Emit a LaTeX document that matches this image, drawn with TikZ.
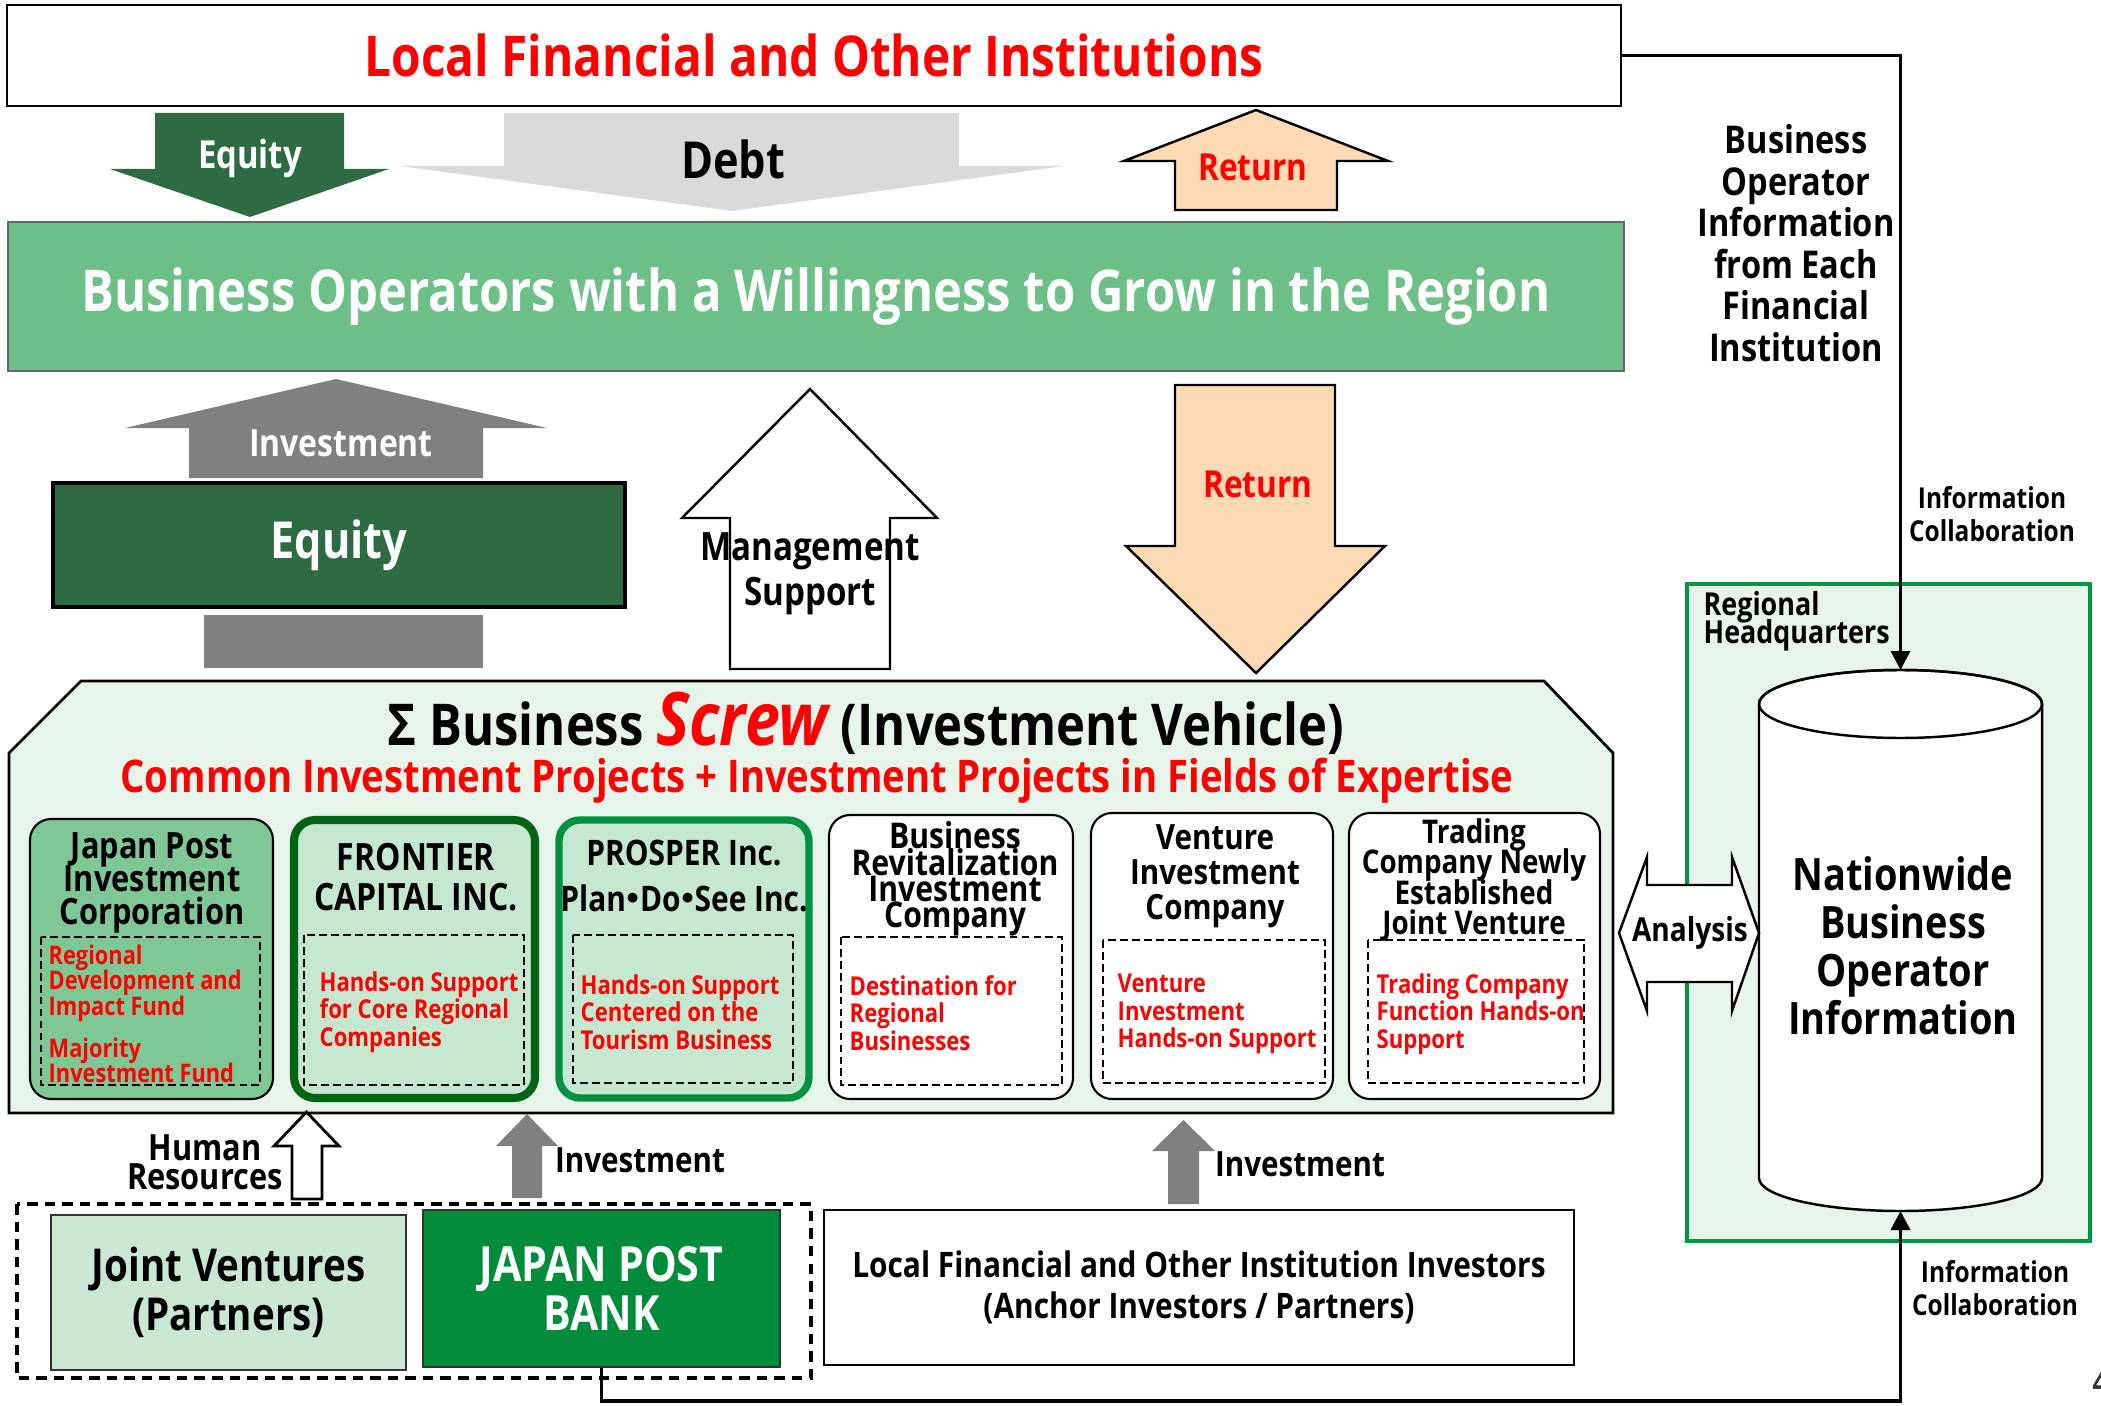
\documentclass[tikz,border=0pt]{standalone}
\usepackage{fontspec}
\setmainfont{Open Sans}[FakeStretch=0.85]
\newfontfamily\cjk{Noto Sans CJK JP}
\usetikzlibrary{arrows.meta,positioning,calc}
\definecolor{hdred}{RGB}{255,0,0}
\definecolor{grow}{RGB}{108,192,135}
\definecolor{deepgrn}{RGB}{46,107,66}
\definecolor{midgrn}{RGB}{128,199,150}
\definecolor{palegrn}{RGB}{197,231,207}
\definecolor{mistgrn}{RGB}{230,244,234}
\definecolor{jvgrn}{RGB}{201,231,211}
\definecolor{bankgrn}{RGB}{0,140,58}
\definecolor{frgrn}{RGB}{0,100,20}
\definecolor{prgrn}{RGB}{0,145,64}
\definecolor{hqgrn}{RGB}{0,150,63}
\definecolor{peach}{RGB}{253,218,180}
\definecolor{debtgray}{RGB}{217,217,217}
\definecolor{invgray}{RGB}{128,128,128}
% size and fixed line pitch (no extra lineskip)
\newcommand{\fsz}[2]{\fontsize{#1}{#2}\selectfont\lineskiplimit=-20pt\lineskip=0pt}
\tikzset{
  unit/.style={draw,rounded corners=6pt,line width=0.6pt},
  note/.style={draw,line width=0.6pt,dash pattern=on 2.2pt off 1.2pt},
  ttl/.style={align=center,inner sep=0pt},
  rtxt/.style={anchor=west,align=left,text=hdred,font=\fsz{7.4}{7.8}\bfseries,inner sep=0pt},
  fat/.style={line width=0.7pt,line join=miter},
  link/.style={line width=1pt,-{Triangle[length=1.9mm,width=1.9mm]}},
  lbl/.style={align=center,inner sep=0pt}
}

\begin{document}
\begin{tikzpicture}
\useasboundingbox (0,0) rectangle (21.01,-14.06);
% institutions on top
\node[draw,line width=0.8pt,minimum width=16.14cm,minimum height=1.01cm,text=hdred,font=\fsz{16}{18}\bfseries] (lfoi) at (8.14,-0.555) {Local Financial and Other Institutions};
% equity and debt down, return up
\fill[deepgrn] (1.55,-1.13) -- (3.44,-1.13) -- (3.44,-1.69) -- (3.89,-1.69) -- (2.50,-2.17) -- (1.10,-1.69) -- (1.55,-1.69) -- cycle;
\node[lbl,text=white,font=\fsz{11}{12}\bfseries] (eqdn) at (2.50,-1.58) {Equity};
\fill[debtgray] (5.04,-1.13) -- (9.59,-1.13) -- (9.59,-1.66) -- (10.64,-1.66) -- (7.32,-2.11) -- (4.00,-1.66) -- (5.04,-1.66) -- cycle;
\node[lbl,font=\fsz{14.5}{16}\bfseries] (debt) at (7.33,-1.59) {Debt};
\draw[fat,fill=peach] (11.75,-2.10) -- (11.75,-1.61) -- (11.24,-1.61) -- (12.56,-1.10) -- (13.88,-1.61) -- (13.37,-1.61) -- (13.37,-2.10) -- cycle;
\node[lbl,text=hdred,font=\fsz{10.6}{12}\bfseries] (retup) at (12.53,-1.67) {Return};
% operators band
\node[draw=black!60,fill=grow,minimum width=16.16cm,minimum height=1.49cm,text=white,font=\fsz{16.4}{18}\bfseries] (bow) at (8.16,-2.965) {Business Operators with a Willingness to Grow in the Region};
% equity block with investment arrow
\fill[invgray] (1.89,-4.78) -- (1.89,-4.28) -- (1.25,-4.28) -- (3.36,-3.79) -- (5.47,-4.28) -- (4.83,-4.28) -- (4.83,-4.78) -- cycle;
\node[lbl,text=white,font=\fsz{10.7}{12}\bfseries] (invup) at (3.41,-4.43) {Investment};
\node[draw,line width=1.2pt,fill=deepgrn,minimum width=5.72cm,minimum height=1.24cm,text=white,font=\fsz{14.5}{16}\bfseries] (eqbox) at (3.39,-5.45) {Equity};
\fill[invgray] (2.04,-6.15) rectangle (4.83,-6.68);
% management support, return down
\draw[fat,fill=white] (7.30,-6.69) -- (7.30,-5.18) -- (6.82,-5.18) -- (8.10,-3.89) -- (9.37,-5.18) -- (8.90,-5.18) -- (8.90,-6.69) -- cycle;
\node[lbl,font=\fsz{11.1}{12.8}\bfseries] (mgmt) at (8.10,-5.74) {Management\\Support};
\draw[fat,fill=peach] (11.75,-3.85) -- (13.35,-3.85) -- (13.35,-5.46) -- (13.85,-5.46) -- (12.56,-6.73) -- (11.26,-5.46) -- (11.75,-5.46) -- cycle;
\node[lbl,text=hdred,font=\fsz{10.6}{12}\bfseries] (retdn) at (12.58,-4.84) {Return};
% investment vehicle
\draw[line width=0.8pt,fill=mistgrn] (0.81,-6.81) -- (15.44,-6.81) -- (16.13,-7.53) -- (16.13,-11.13) -- (0.09,-11.13) -- (0.09,-7.53) -- cycle;
\node[lbl,font=\fsz{16.4}{18}\bfseries] (vtitle) at (8.66,-7.23) {Σ Business {\color{hdred}\fsz{21}{22}\itshape Screw} (Investment Vehicle)};
\node[lbl,text=hdred,font=\fsz{12.8}{15}\bfseries] (vsub) at (8.17,-7.81) {Common Investment Projects + Investment Projects in Fields of Expertise};
\node[unit,fill=midgrn,minimum width=2.43cm,minimum height=2.80cm] (jpic) at (1.515,-9.59) {};
\node[unit,draw=frgrn,line width=2.3pt,fill=palegrn,minimum width=2.41cm,minimum height=2.78cm] (frontier) at (4.145,-9.59) {};
\node[unit,draw=prgrn,line width=2.1pt,fill=palegrn,minimum width=2.50cm,minimum height=2.78cm] (prosper) at (6.84,-9.59) {};
\node[unit,fill=white,minimum width=2.44cm,minimum height=2.84cm] (revital) at (9.51,-9.57) {};
\node[unit,fill=white,minimum width=2.42cm,minimum height=2.86cm] (venture) at (12.12,-9.56) {};
\node[unit,fill=white,minimum width=2.51cm,minimum height=2.86cm] (trading) at (14.745,-9.56) {};
\foreach \a/\b/\c/\d in {0.41/-9.37/2.60/-10.85,3.04/-9.35/5.24/-10.85,5.73/-9.35/7.93/-10.83,8.41/-9.37/10.62/-10.85,11.03/-9.40/13.25/-10.83,13.68/-9.40/15.84/-10.83}
  \draw[note] (\a,\b) rectangle (\c,\d);
\node[ttl,font=\fsz{10.3}{9.5}\bfseries] (jpict) at (1.52,-8.83) {Japan Post\\Investment\\Corporation};
\node[ttl,font=\fsz{10.7}{11.4}\bfseries] (frontiert) at (4.16,-8.77) {FRONTIER\\CAPITAL INC.};
\node[ttl,font=\fsz{10}{13}\bfseries] (prospert) at (6.84,-8.76) {PROSPER Inc.\\Plan\hspace{-.3em}{\cjk ・}\hspace{-.3em}Do\hspace{-.3em}{\cjk ・}\hspace{-.3em}See Inc.};
\node[ttl,font=\fsz{10.1}{7.5}\bfseries] (revitalt) at (9.55,-8.79) {Business\\Revitalization\\Investment\\Company};
\node[ttl,font=\fsz{9.9}{10}\bfseries] (venturet) at (12.15,-8.76) {Venture\\Investment\\Company};
\node[ttl,font=\fsz{9.3}{8.7}\bfseries] (tradingt) at (14.74,-8.80) {Trading\\Company Newly\\Established\\Joint Venture};
\node[rtxt,font=\fsz{7.3}{7.25}\bfseries] (jpicn) at (0.48,-10.14) {Regional\\Development and\\Impact Fund\\[4.7pt]Majority\\Investment Fund};
\node[rtxt] (frontiern) at (3.19,-10.12) {Hands-on Support\\for Core Regional\\Companies};
\node[rtxt] (prospern) at (5.80,-10.12) {Hands-on Support\\Centered on the\\Tourism Business};
\node[rtxt] (revitaln) at (8.49,-10.13) {Destination for\\Regional\\Businesses};
\node[rtxt] (venturen) at (11.17,-10.14) {Venture\\Investment\\Hands-on Support};
\node[rtxt] (tradingn) at (13.76,-10.14) {Trading Company\\Function Hands-on\\Support};
% investors below
\draw[fat,line width=0.8pt,fill=white] (2.92,-11.99) -- (2.92,-11.46) -- (2.74,-11.46) -- (3.065,-11.12) -- (3.39,-11.46) -- (3.22,-11.46) -- (3.22,-11.99) -- cycle;
\node[lbl,font=\fsz{10.3}{8.2}\bfseries] (hr) at (2.05,-11.62) {Human\\Resources};
\fill[invgray] (5.12,-11.98) -- (5.12,-11.46) -- (4.96,-11.46) -- (5.27,-11.14) -- (5.58,-11.46) -- (5.42,-11.46) -- (5.42,-11.98) -- cycle;
\node[lbl,font=\fsz{9.9}{11}\bfseries] (inv1) at (6.40,-11.60) {Investment};
\fill[invgray] (11.68,-12.04) -- (11.68,-11.51) -- (11.52,-11.51) -- (11.835,-11.20) -- (12.15,-11.51) -- (11.99,-11.51) -- (11.99,-12.04) -- cycle;
\node[lbl,font=\fsz{9.9}{11}\bfseries] (inv2) at (13.00,-11.64) {Investment};
\draw[line width=0.9pt,dash pattern=on 3pt off 2pt] (0.17,-12.04) rectangle (8.11,-13.78);
\node[draw=black!80,line width=0.8pt,fill=jvgrn,minimum width=3.55cm,minimum height=1.55cm,align=center,font=\fsz{12.9}{14}\bfseries] (jv) at (2.285,-12.925) {Joint Ventures\\(Partners)};
\node[draw=black!80,line width=0.8pt,fill=bankgrn,text=white,minimum width=3.57cm,minimum height=1.57cm,align=center,font=\fsz{13.8}{14}\bfseries] (jpb) at (6.015,-12.885) {JAPAN POST\\BANK};
\node[draw,line width=0.8pt,fill=white,minimum width=7.50cm,minimum height=1.55cm,align=center,font=\fsz{10}{11.7}\bfseries] (lfii) at (11.99,-12.875) {Local Financial and Other Institution Investors\\(Anchor Investors / Partners)};
% regional headquarters and database
\node[draw=hqgrn,line width=1.3pt,fill=mistgrn,minimum width=4.03cm,minimum height=6.57cm] (rhq) at (18.885,-9.125) {};
\node[anchor=west,align=left,font=\fsz{9}{8}\bfseries,inner sep=0pt] (rhqt) at (17.03,-6.21) {Regional\\Headquarters};
\draw[line width=0.7pt,fill=white] (17.59,-7.04) -- (17.59,-11.78) arc[start angle=180,end angle=360,x radius=1.415,y radius=0.33] -- (20.42,-7.04) arc[start angle=0,end angle=180,x radius=1.415,y radius=0.34] -- cycle;
\draw[line width=0.7pt] (19.005,-7.04) ellipse[x radius=1.415,y radius=0.34];
\coordinate (cyltop) at (19.005,-6.70);
\coordinate (cylbot) at (19.005,-12.11);
\coordinate (turn) at (19.005,-14.01);
\node[lbl,font=\fsz{12.7}{13.7}\bfseries] (nbi) at (19.03,-9.455) {Nationwide\\Business\\Operator\\Information};
\draw[fat,fill=white] (16.19,-9.33) -- (16.47,-8.57) -- (16.47,-8.85) -- (17.32,-8.85) -- (17.32,-8.57) -- (17.59,-9.33) -- (17.32,-10.11) -- (17.32,-9.82) -- (16.47,-9.82) -- (16.47,-10.11) -- cycle;
\node[lbl,font=\fsz{9.4}{10}\bfseries] (anl) at (16.90,-9.33) {Analysis};
% information flow
\draw[link] (lfoi.east) -| (cyltop);
\draw[link] (jpb.south) |- (turn) -- (cylbot);
\node[lbl,font=\fsz{10.9}{11.8}\bfseries] (boi) at (17.96,-2.43) {Business\\Operator\\Information\\from Each\\Financial\\Institution};
\node[lbl,font=\fsz{8.2}{9.6}\bfseries] (icup) at (19.92,-5.14) {Information\\Collaboration};
\node[lbl,font=\fsz{8.2}{9.6}\bfseries] (icdn) at (19.95,-12.88) {Information\\Collaboration};
\node[anchor=west,inner sep=0pt,font=\fsz{14}{14},text=black!80] (pg) at (20.92,-13.80) {4};
\end{tikzpicture}
\end{document}
